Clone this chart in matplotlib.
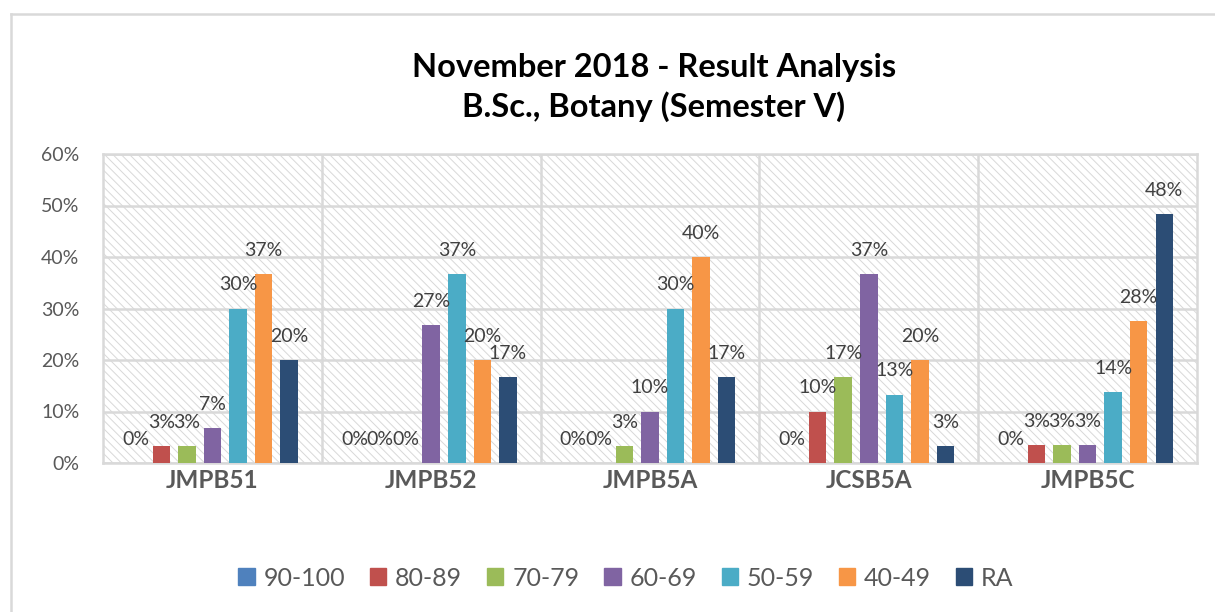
import numpy as np
import matplotlib.pyplot as plt
from matplotlib.patches import Rectangle
from matplotlib.lines import Line2D
from matplotlib.ticker import PercentFormatter

plt.rcParams['font.family'] = ['Lato', 'DejaVu Sans']
plt.rcParams['hatch.linewidth'] = 0.7

# marks per subject, share of students in each range (%)
subjects = ['JMPB51', 'JMPB52', 'JMPB5A', 'JCSB5A', 'JMPB5C']
ranges = ['90-100', '80-89', '70-79', '60-69', '50-59', '40-49', 'RA']
r_90_100 = [0.0, 0.0, 0.0, 0.0, 0.0]
r_80_89 = [3.3, 0.0, 0.0, 10.0, 3.4]
r_70_79 = [3.3, 0.0, 3.3, 16.7, 3.4]
r_60_69 = [6.7, 26.7, 10.0, 36.7, 3.4]
r_50_59 = [30.0, 36.7, 30.0, 13.3, 13.8]
r_40_49 = [36.7, 20.0, 40.0, 20.0, 27.6]
r_ra = [20.0, 16.7, 16.7, 3.3, 48.3]
series = [r_90_100, r_80_89, r_70_79, r_60_69, r_50_59, r_40_49, r_ra]
colors = ['#4F81BD', '#C0504D', '#9BBB59', '#8064A2', '#4BACC6', '#F79646', '#2C4D75']

grid_c = '#d9d9d9'
text_c = '#595959'

fig = plt.figure(figsize=(12.15, 6.12), dpi=100)
ax = fig.add_axes([103 / 1215, 1 - 463 / 612, 1094 / 1215, 309 / 612])

# hatched plot area
ax.add_patch(Rectangle((0, 0), 1, 1, transform=ax.transAxes, facecolor='white',
                       edgecolor='#d8d8d8', hatch='\\\\\\\\', lw=0, zorder=0))

x = np.arange(len(subjects))
step = 25.6 / 219
width = 17.5 / 219
for i, (vals, col) in enumerate(zip(series, colors)):
    pos = x + (i - 3) * step
    v = np.array(vals) / 100
    ax.bar(pos, v, width, color=col, zorder=3, label=ranges[i])
    for px, val in zip(pos, vals):
        ax.annotate(f'{val:.0f}%', (px, val / 100), xytext=(0, 17), textcoords='offset points',
                    ha='center', va='center', fontsize=14, color='#404040', zorder=4)

ax.set_xlim(-0.5, len(subjects) - 0.5)
ax.set_ylim(0, 0.6)
ax.set_yticks(np.arange(0, 0.61, 0.1))
ax.yaxis.set_major_formatter(PercentFormatter(1.0, decimals=0))
ax.grid(axis='y', color=grid_c, lw=1.8, zorder=1)
for sep in np.arange(0.5, len(subjects) - 0.5):
    ax.axvline(sep, color=grid_c, lw=1.8, zorder=1)
for s in ax.spines.values():
    s.set_color(grid_c)
    s.set_linewidth(1.8)
ax.set_xticks(x)
ax.set_xticklabels(subjects, fontsize=17.5, fontweight='bold', color=text_c)
ax.tick_params(axis='x', length=0, pad=4)
ax.tick_params(axis='y', length=0, pad=17, labelsize=14, labelcolor=text_c)

fig.text(654 / 1215, 1 - 67 / 612, 'November 2018 - Result Analysis', ha='center', va='center',
         fontsize=23.5, fontweight='bold', color='black')
fig.text(654 / 1215, 1 - 107 / 612, 'B.Sc., Botany (Semester V)', ha='center', va='center',
         fontsize=23.5, fontweight='bold', color='black')

handles = [Rectangle((0, 0), 1, 1, color=c) for c in colors]
fig.legend(handles, ranges, loc='center', bbox_to_anchor=(626 / 1215, 1 - 578 / 612), ncol=7,
           frameon=False, fontsize=18, labelcolor=text_c, handlelength=0.65, handleheight=0.65,
           handletextpad=0.35, columnspacing=1.0)

# chart area border
fig.add_artist(Line2D([11 / 1215, 1], [1 - 14 / 612] * 2, color=grid_c, lw=1.8))
fig.add_artist(Line2D([11 / 1215] * 2, [0, 1 - 14 / 612], color=grid_c, lw=1.8))

fig.savefig('out.png', dpi=100)
